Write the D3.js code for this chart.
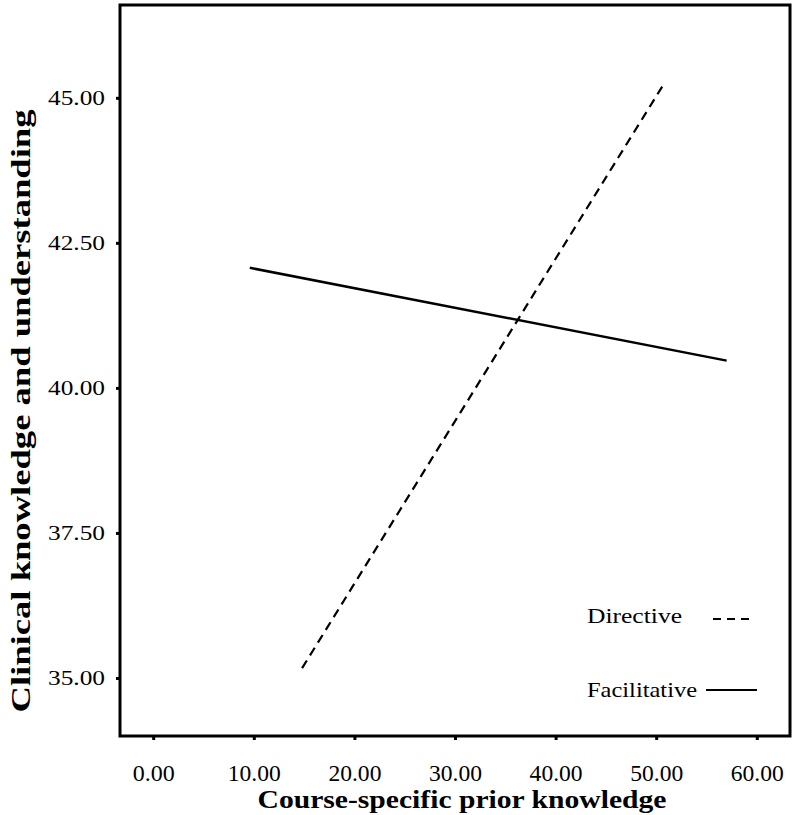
<!DOCTYPE html>
<html>
<head>
<meta charset="utf-8">
<script src="https://cdn.jsdelivr.net/npm/d3@7"></script>
<style>
  body { margin: 0; background: #fff; }
  svg { display: block; }
  text { font-family: "Liberation Serif", "Times New Roman", Times, serif; fill: #000; }
</style>
</head>
<body>
<div id="chart"></div>
<script>
const xTicks = [0, 10, 20, 30, 40, 50, 60];
const yTicks = [35, 37.5, 40, 42.5, 45];
const seriesNames = ['Directive', 'Facilitative'];
const directive = [{x: 14.8, y: 35.17}, {x: 50.8, y: 45.25}];
const facilitative = [{x: 9.6, y: 42.07}, {x: 57.0, y: 40.47}];

const width = 794, height = 815;
const plot = {left: 120, right: 790, top: 5, bottom: 736};
const serif = '"Liberation Serif", "Times New Roman", Times, serif';

let svg = d3.select('#chart').append('svg')
  .attr('width', width)
  .attr('height', height);

let x = d3.scaleLinear().domain([-3.3, 63.3]).range([plot.left, plot.right]);
let y = d3.scaleLinear().domain([34, 46.6]).range([plot.bottom, plot.top]);

// frame
svg.append('rect')
  .attr('x', plot.left).attr('y', plot.top)
  .attr('width', plot.right - plot.left).attr('height', plot.bottom - plot.top)
  .attr('fill', 'none').attr('stroke', '#000').attr('stroke-width', 3);

// x axis
let xAxis = svg.append('g')
  .attr('transform', 'translate(0,' + plot.bottom + ')')
  .call(d3.axisBottom(x).tickValues(xTicks).tickFormat(d3.format('.2f')).tickSize(4).tickSizeOuter(0));
xAxis.select('.domain').remove();
xAxis.selectAll('line').attr('stroke-width', 3);
xAxis.selectAll('text')
  .attr('y', 29)
  .attr('textLength', d => d < 10 ? 42 : 53)
  .attr('lengthAdjust', 'spacingAndGlyphs')
  .style('font-size', '23px')
  .style('font-family', serif);

// y axis
let yAxis = svg.append('g')
  .attr('transform', 'translate(' + plot.left + ',0)')
  .call(d3.axisLeft(y).tickValues(yTicks).tickFormat(d3.format('.2f')).tickSize(4).tickSizeOuter(0));
yAxis.select('.domain').remove();
yAxis.selectAll('line').attr('stroke-width', 3);
yAxis.selectAll('text')
  .attr('x', -15)
  .attr('dy', '0.35em')
  .attr('textLength', 57)
  .attr('lengthAdjust', 'spacingAndGlyphs')
  .style('font-size', '20px')
  .style('font-family', serif);

// axis titles
svg.append('text')
  .attr('x', 462).attr('y', 808)
  .attr('text-anchor', 'middle')
  .attr('textLength', 409)
  .attr('lengthAdjust', 'spacingAndGlyphs')
  .style('font-size', '26px').style('font-weight', 'bold')
  .text('Course-specific prior knowledge');

svg.append('text')
  .attr('transform', 'translate(30,' + 411 + ')rotate(-90)')
  .attr('text-anchor', 'middle')
  .attr('textLength', 603)
  .attr('lengthAdjust', 'spacingAndGlyphs')
  .style('font-size', '27px').style('font-weight', 'bold')
  .text('Clinical knowledge and understanding');

// lines
let line = d3.line().x(d => x(d.x)).y(d => y(d.y));

svg.append('path')
  .datum(directive)
  .attr('d', line)
  .attr('fill', 'none').attr('stroke', '#000')
  .attr('stroke-width', 2.2)
  .attr('stroke-dasharray', '9,6');

svg.append('path')
  .datum(facilitative)
  .attr('d', line)
  .attr('fill', 'none').attr('stroke', '#000')
  .attr('stroke-width', 2.5);

// legend
let legend = svg.append('g');
legend.append('text')
  .attr('x', 587).attr('y', 623)
  .attr('textLength', 95).attr('lengthAdjust', 'spacingAndGlyphs')
  .style('font-size', '22px')
  .text(seriesNames[0]);
legend.append('line')
  .attr('x1', 713).attr('x2', 755).attr('y1', 619).attr('y2', 619)
  .attr('stroke', '#000').attr('stroke-width', 2)
  .attr('stroke-dasharray', '8,6');
legend.append('text')
  .attr('x', 587).attr('y', 697)
  .attr('textLength', 110).attr('lengthAdjust', 'spacingAndGlyphs')
  .style('font-size', '22px')
  .text(seriesNames[1]);
legend.append('line')
  .attr('x1', 706).attr('x2', 757).attr('y1', 690).attr('y2', 690)
  .attr('stroke', '#000').attr('stroke-width', 2);
</script>
</body>
</html>
